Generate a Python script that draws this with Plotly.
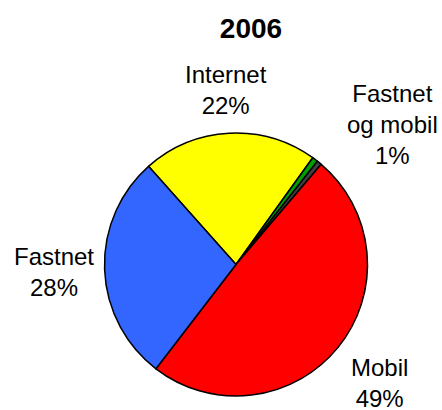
import plotly.graph_objects as go

title_text = "2006"
categories = ["Internet", "Fastnet og mobil", "Annet", "Mobil", "Fastnet"]
values = [21.5, 0.7, 0.6, 49.2, 28.0]
colors = ["#FFFF00", "#00A000", "#404040", "#FF0000", "#3366FF"]
# label display lines (None = no label shown)
label_lines = ["Internet", "Fastnet<br>og mobil", None, "Mobil", "Fastnet"]
# label anchor positions in pixels (x, y from top)
label_pos = [(226.5, 90), (392, 124.5), None, (379.5, 383), (54, 271.5)]

W, H = 442, 410
cx, cy, r = 236, 264.5, 131.5

fig = go.Figure(go.Pie(
    labels=categories,
    values=values,
    sort=False,
    direction="clockwise",
    rotation=-41.7,
    marker=dict(colors=colors, line=dict(color="black", width=1.5)),
    textinfo="none",
    hoverinfo="label+percent",
    showlegend=False,
    domain=dict(x=[(cx - r) / W, (cx + r) / W], y=[1 - (cy + r) / H, 1 - (cy - r) / H]),
))

total = sum(values)
for name, v, pos in zip(label_lines, values, label_pos):
    if name is None:
        continue
    fig.add_annotation(
        x=pos[0] / W, y=1 - pos[1] / H, xref="paper", yref="paper",
        text=f"{name}<br>{round(v / total * 100)}%",
        showarrow=False, xanchor="center", yanchor="middle", align="center",
        font=dict(family="Liberation Sans, Arial, sans-serif", size=24, color="black"),
    )

fig.update_layout(
    width=W, height=H,
    margin=dict(l=0, r=0, t=0, b=0),
    paper_bgcolor="white", plot_bgcolor="white",
    title=dict(text=f"<b>{title_text}</b>", x=251 / W, y=1 - 28 / H, xanchor="center", yanchor="middle",
               font=dict(family="Liberation Sans, Arial, sans-serif", size=28, color="black")),
)

fig.write_html("out.html", config={"displayModeBar": False},
               post_script="document.body.style.margin='0';document.body.style.overflow='hidden';")
